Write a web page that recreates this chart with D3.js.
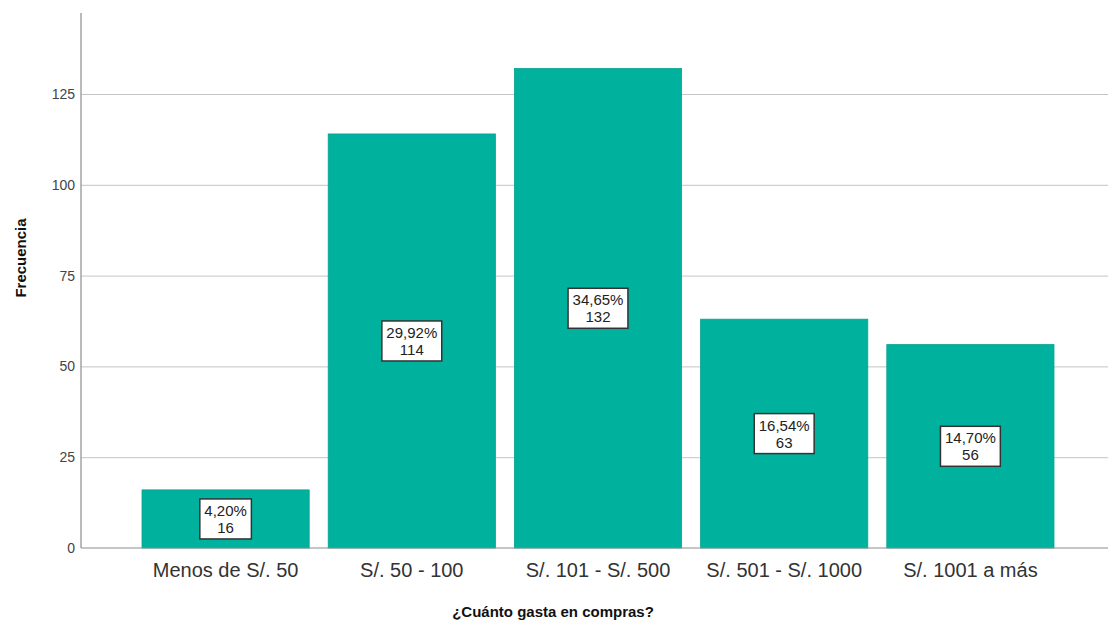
<!DOCTYPE html>
<html>
<head>
<meta charset="utf-8">
<script src="https://cdn.jsdelivr.net/npm/d3@7"></script>
<style>
  body { margin: 0; background: #fff; }
  text { font-family: Arial, "Liberation Sans", sans-serif; }
</style>
</head>
<body>
<div id="chart"></div>
<script>
// chart data
var categories = ["Menos de S/. 50", "S/. 50 - 100", "S/. 101 - S/. 500", "S/. 501 - S/. 1000", "S/. 1001 a más"];
var counts = [16, 114, 132, 63, 56];
var percents = ["4,20%", "29,92%", "34,65%", "16,54%", "14,70%"];
var yTicks = [0, 25, 50, 75, 100, 125];

var svgWidth = 1108;
var svgHeight = 623;

var axisX = 81;     // left axis position
var baseY = 548;    // zero line
var topY = 13;

var svg = d3.select("#chart")
  .append("svg")
  .attr("width", svgWidth)
  .attr("height", svgHeight);

var xScale = d3.scaleBand()
  .domain(categories)
  .range([132.5, 1063.5])
  .paddingInner(19 / 186)
  .paddingOuter(9.5 / 186);

var yScale = d3.scaleLinear()
  .domain([0, 147.3])
  .range([baseY, topY]);

// gridlines
svg.append("g")
  .attr("transform", `translate(${axisX}, 0)`)
  .call(d3.axisLeft(yScale).tickValues(yTicks.slice(1)).tickSize(-(svgWidth - axisX)).tickFormat(""))
  .call(g => g.select(".domain").remove())
  .selectAll("line")
  .attr("stroke", "#c4c4c4")
  .attr("stroke-width", 1);

// bars
svg.selectAll("rect.bar")
  .data(counts)
  .enter()
  .append("rect")
  .attr("class", "bar")
  .attr("x", (d, i) => xScale(categories[i]))
  .attr("y", d => yScale(d))
  .attr("width", xScale.bandwidth())
  .attr("height", d => baseY - yScale(d))
  .attr("fill", "#00b19e")
  .attr("stroke", "#05a391")
  .attr("stroke-width", 0.8);

// y axis labels
var yAxis = svg.append("g")
  .attr("transform", `translate(${axisX}, 0)`)
  .call(d3.axisLeft(yScale).tickValues(yTicks).tickSize(0).tickPadding(6));
yAxis.select(".domain").remove();
yAxis.selectAll("text")
  .style("font-size", "14px")
  .style("font-family", "Arial, 'Liberation Sans', sans-serif")
  .attr("fill", "#444");

// axis lines
svg.append("line")
  .attr("x1", axisX).attr("x2", axisX)
  .attr("y1", topY).attr("y2", baseY)
  .attr("stroke", "#8c8c8c").attr("stroke-width", 1.2);
svg.append("line")
  .attr("x1", axisX).attr("x2", svgWidth)
  .attr("y1", baseY).attr("y2", baseY)
  .attr("stroke", "#8c8c8c").attr("stroke-width", 1.2);

// x axis labels
var xAxis = svg.append("g")
  .attr("transform", `translate(0, ${baseY})`)
  .call(d3.axisBottom(xScale).tickSize(0).tickPadding(15));
xAxis.select(".domain").remove();
xAxis.selectAll("text")
  .style("font-size", "20px")
  .style("font-family", "Arial, 'Liberation Sans', sans-serif")
  .attr("fill", "#333");

// value boxes (percent on top line, count below)
var labels = svg.selectAll("g.lbl")
  .data(counts)
  .enter()
  .append("g")
  .attr("class", "lbl")
  .attr("transform", (d, i) => `translate(${xScale(categories[i]) + xScale.bandwidth() / 2}, ${(yScale(d) + baseY) / 2})`);

labels.each(function(d, i) {
  var g = d3.select(this);
  var box = g.append("rect");
  var t1 = g.append("text")
    .attr("text-anchor", "middle")
    .attr("y", -3)
    .style("font-size", "15px")
    .attr("fill", "#222")
    .text(percents[i]);
  g.append("text")
    .attr("text-anchor", "middle")
    .attr("y", 14)
    .style("font-size", "15px")
    .attr("fill", "#222")
    .text(d);
  var w = t1.node().getComputedTextLength() + 9;
  box.attr("x", -w / 2)
    .attr("y", -20)
    .attr("width", w)
    .attr("height", 40)
    .attr("fill", "#fff")
    .attr("stroke", "#333")
    .attr("stroke-width", 1.5);
});

// axis titles
svg.append("text")
  .attr("x", 553)
  .attr("y", 617)
  .attr("text-anchor", "middle")
  .style("font-size", "15px")
  .style("font-weight", "bold")
  .attr("fill", "#111")
  .text("¿Cuánto gasta en compras?");

svg.append("text")
  .attr("transform", "translate(26, 258) rotate(-90)")
  .attr("text-anchor", "middle")
  .style("font-size", "15px")
  .style("font-weight", "bold")
  .attr("fill", "#111")
  .text("Frecuencia");
</script>
</body>
</html>
